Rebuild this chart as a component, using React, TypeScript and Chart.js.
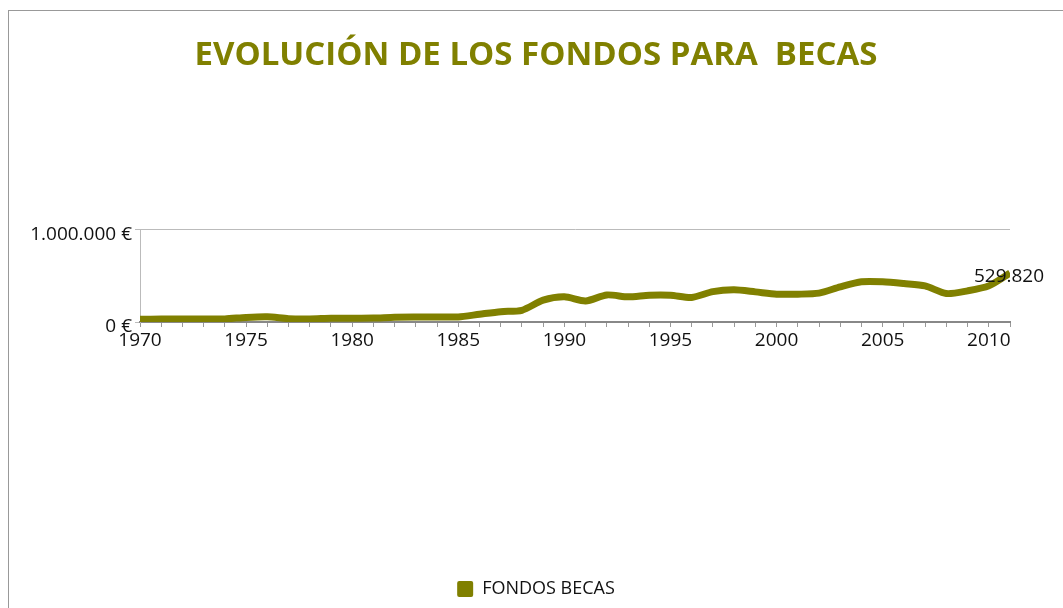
import React, { useEffect, useRef } from "react";
import { Chart, registerables } from "chart.js";

Chart.register(...registerables);

const years: number[] = [
  1970, 1971, 1972, 1973, 1974, 1975, 1976, 1977, 1978, 1979,
  1980, 1981, 1982, 1983, 1984, 1985, 1986, 1987, 1988, 1989,
  1990, 1991, 1992, 1993, 1994, 1995, 1996, 1997, 1998, 1999,
  2000, 2001, 2002, 2003, 2004, 2005, 2006, 2007, 2008, 2009,
  2010, 2011,
];

const fondosBecas: number[] = [
  30000, 32000, 32000, 32000, 33000, 50000, 57000, 36000, 33000, 40000,
  40000, 42000, 52000, 54000, 54000, 55000, 84000, 112000, 127000, 236000,
  272000, 228000, 293000, 272000, 290000, 290000, 266000, 329000, 348000, 326000,
  301000, 301000, 312000, 380000, 435000, 435000, 416000, 391000, 308000, 337000,
  391000, 529820,
];

const yTicks: number[] = [0, 1000000];

const TITLE = "EVOLUCIÓN DE LOS FONDOS PARA  BECAS";
const SERIES_NAME = "FONDOS BECAS";
const OLIVE = "#808000";

function fmt(n: number): string {
  const s = Math.round(n).toString();
  return s.replace(/\B(?=(\d{3})+(?!\d))/g, ".");
}

const lastLabelPlugin = {
  id: "lastLabel",
  afterDatasetsDraw(chart: any) {
    const meta = chart.getDatasetMeta(0);
    const pts = meta.data;
    if (!pts || !pts.length) return;
    const p = pts[pts.length - 1];
    const ctx = chart.ctx;
    ctx.save();
    ctx.font = "19px 'Open Sans'";
    ctx.fillStyle = "#111";
    ctx.textAlign = "center";
    ctx.textBaseline = "middle";
    ctx.fillText(fmt(fondosBecas[fondosBecas.length - 1]), p.x - 1, p.y + 4);
    ctx.restore();
  },
};

export default function App() {
  const ref = useRef<HTMLCanvasElement | null>(null);

  useEffect(() => {
    if (!ref.current) return;
    const chart = new Chart(ref.current, {
      type: "line",
      data: {
        labels: years.map((y) => String(y)),
        datasets: [
          {
            label: SERIES_NAME,
            data: fondosBecas,
            borderColor: OLIVE,
            backgroundColor: OLIVE,
            borderWidth: 7,
            pointRadius: 0,
            tension: 0.25,
            clip: 0 as any,
            yAxisID: "y",
          },
        ],
      },
      plugins: [lastLabelPlugin],
      options: {
        animation: false,
        responsive: false,
        maintainAspectRatio: false,
        layout: { padding: { left: 0, right: 0, top: 0, bottom: 0 } },
        plugins: {
          title: {
            display: true,
            text: TITLE,
            color: OLIVE,
            font: { family: "'Open Sans'", size: 33, weight: "bold", lineHeight: 1.2 },
            padding: { top: 25, bottom: 154 },
          },
          legend: {
            display: true,
            position: "bottom",
            labels: {
              font: { family: "'Open Sans'", size: 18 },
              color: "#111",
              boxWidth: 16,
              boxHeight: 16,
              useBorderRadius: true,
              borderRadius: 2,
              generateLabels: () => [
                {
                  text: SERIES_NAME,
                  fillStyle: OLIVE,
                  strokeStyle: OLIVE,
                  lineWidth: 0,
                  hidden: false,
                  datasetIndex: 0,
                  fontColor: "#111",
                  borderRadius: 2,
                } as any,
              ],
            },
            onClick: () => {},
          },
          tooltip: { enabled: false },
        },
        scales: {
          x: {
            type: "category",
            offset: false,
            afterFit: (scale: any) => {
              scale.height = 248;
            },
            grid: {
              display: true,
              drawOnChartArea: false,
              drawTicks: true,
              tickLength: 5,
              color: "#999",
            },
            border: { display: true, color: "#888", width: 2 },
            ticks: {
              autoSkip: false,
              maxRotation: 0,
              minRotation: 0,
              padding: 2,
              color: "#111",
              font: { family: "'Open Sans'", size: 19 },
              callback: (_v: any, i: number) => (years[i] % 5 === 0 ? String(years[i]) : ""),
            },
          },
          y: {
            type: "linear",
            position: "left",
            min: yTicks[0],
            max: yTicks[yTicks.length - 1],
            afterFit: (scale: any) => {
              scale.width = 131;
            },
            afterBuildTicks: (scale: any) => {
              scale.ticks = yTicks.map((v) => ({ value: v }));
            },
            grid: {
              display: true,
              drawTicks: true,
              tickLength: 5,
              color: "#bbb",
            },
            border: { display: true, color: "#bbb", width: 1 },
            ticks: {
              padding: 3,
              labelOffset: 5,
              color: "#111",
              font: { family: "'Open Sans'", size: 19 },
              callback: (v: any) => fmt(Number(v)) + " €",
            },
          },
          y2: {
            type: "linear",
            position: "right",
            display: true,
            afterFit: (scale: any) => {
              scale.width = 53;
            },
            grid: { display: false, drawTicks: false },
            border: { display: false },
            ticks: { display: false },
          },
        },
      },
    });
    return () => chart.destroy();
  }, []);

  return (
    <div
      style={{
        position: "fixed",
        left: 8,
        top: 10,
        width: 1055,
        height: 598,
        borderLeft: "1px solid #999",
        borderTop: "1px solid #999",
        background: "#fff",
        overflow: "hidden",
      }}
    >
      <canvas ref={ref} width={1054} height={597} style={{ display: "block" }} />
    </div>
  );
}
